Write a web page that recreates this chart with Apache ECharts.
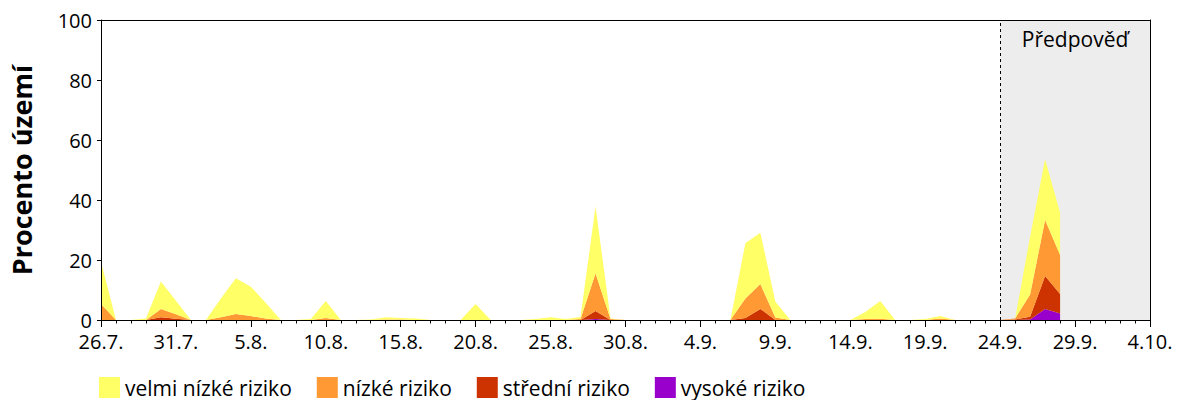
<!DOCTYPE html>
<html>
<head>
<meta charset="utf-8">
<script src="https://cdn.jsdelivr.net/npm/echarts@6/dist/echarts.min.js"></script>
<style>
  html, body { margin: 0; padding: 0; background: #fff; }
  #chart { width: 1200px; height: 400px; }
</style>
</head>
<body>
<div id="chart"></div>
<script>
// dny 26.7. - 4.10.
var startDay = new Date(2000, 6, 26);
var dayCount = 71;
var days = [];
for (var i = 0; i < dayCount; i++) {
  var d = new Date(startDay.getTime() + i * 86400000);
  days.push(d.getDate() + '.' + (d.getMonth() + 1) + '.');
}

var forecastFrom = '24.9.';
var forecastTo = '4.10.';

var seriesNames = ['velmi nízké riziko', 'nízké riziko', 'střední riziko', 'vysoké riziko'];

// procento území, po dnech (26.7. - 29.9.)
var velmiNizke = [14.1, 0, 0, 0.5, 9.1, 4.5, 0, 0, 6.3, 11.9, 9.8, 5.2, 0, 0, 0.3, 5.6, 0, 0, 0.2, 0.7,
  0.5, 0.5, 0, 0, 0, 5.3, 0, 0, 0, 0.3, 0.9, 0.3, 0.7, 22.2, 0.2, 0, 0, 0, 0, 0,
  0, 0, 0, 18.4, 17.1, 5.3, 0, 0, 0, 0, 0, 2.4, 5.9, 0, 0, 0.3, 0.8, 0, 0, 0,
  0, 0, 19.3, 20.3, 14.1];
var nizke = [5.3, 0, 0, 0, 2.8, 1.5, 0, 0, 0.9, 2.0, 1.3, 0.5, 0, 0, 0, 0.7, 0, 0, 0, 0.2,
  0.2, 0, 0, 0, 0, 0, 0, 0, 0, 0, 0, 0, 0.3, 12.6, 0.3, 0, 0, 0, 0, 0,
  0, 0, 0, 6.5, 8.3, 0.8, 0, 0, 0, 0, 0, 0.3, 0.4, 0, 0, 0, 0.5, 0, 0, 0,
  0, 0.3, 7.4, 18.6, 13.0];
var stredni = [0, 0, 0, 0, 0.9, 0.4, 0, 0, 0, 0, 0, 0, 0, 0, 0, 0, 0, 0, 0, 0,
  0, 0, 0, 0, 0, 0, 0, 0, 0, 0, 0, 0, 0, 2.7, 0, 0, 0, 0, 0, 0,
  0, 0, 0, 0.7, 3.7, 0, 0, 0, 0, 0, 0, 0, 0, 0, 0, 0, 0, 0, 0, 0,
  0, 0.2, 0.9, 11.0, 6.5];
var vysoke = [0, 0, 0, 0, 0, 0, 0, 0, 0, 0, 0, 0, 0, 0, 0, 0, 0, 0, 0, 0,
  0, 0, 0, 0, 0, 0, 0, 0, 0, 0, 0, 0, 0, 0.3, 0, 0, 0, 0, 0, 0,
  0, 0, 0, 0, 0, 0, 0, 0, 0, 0, 0, 0, 0, 0, 0, 0, 0, 0, 0, 0,
  0, 0, 0.2, 3.7, 2.2];

var colors = ['#ffff66', '#ff9933', '#cc3300', '#9900cc'];
var font = 'Open Sans';

function areaSeries(name, data, color) {
  return {
    name: name, type: 'line', stack: 'riziko', data: data,
    showSymbol: false, symbol: 'none', z: 3,
    lineStyle: { width: 0, color: color },
    itemStyle: { color: color },
    areaStyle: { color: color, opacity: 1 }
  };
}

var chart = echarts.init(document.getElementById('chart'), null, { renderer: 'svg' });
chart.setOption({
  animation: false,
  textStyle: { fontFamily: font },
  grid: { left: 100, right: 50, top: 20, bottom: 80 },
  legend: {
    data: seriesNames, left: 94, top: 372, icon: 'rect',
    itemWidth: 21, itemHeight: 21, itemGap: 25,
    textStyle: { color: '#000', fontSize: 21, fontFamily: font }
  },
  xAxis: [
    { // hlavní osa s popisky
      type: 'category', data: days, boundaryGap: false, z: 10,
      axisLine: { lineStyle: { color: '#000', width: 1 } },
      axisTick: { interval: 4, length: 7, lineStyle: { color: '#000' } },
      axisLabel: { interval: 4, color: '#000', fontSize: 20, lineHeight: 16, margin: 13, fontFamily: font }
    },
    { // denní ticky
      type: 'category', data: days, boundaryGap: false, position: 'bottom', z: 10,
      axisLine: { show: false },
      axisTick: { interval: 0, length: 3.5, lineStyle: { color: '#000' } },
      axisLabel: { show: false }
    },
    { // horní rámeček
      type: 'category', data: days, boundaryGap: false, position: 'top', z: 10,
      axisLine: { lineStyle: { color: '#000', width: 1 } },
      axisTick: { show: false }, axisLabel: { show: false }
    }
  ],
  yAxis: [
    {
      type: 'value', min: 0, max: 100, interval: 20, z: 10,
      name: 'Procento území', nameLocation: 'middle', nameGap: 66,
      nameTextStyle: { color: '#000', fontSize: 27, fontWeight: 'bold', fontFamily: font },
      axisLine: { show: true, lineStyle: { color: '#000', width: 1 } },
      axisTick: { show: true, length: 4, lineStyle: { color: '#000' } },
      axisLabel: { color: '#000', fontSize: 20, lineHeight: 14, margin: 9, fontFamily: font },
      splitLine: { show: false }
    },
    { // pravý rámeček
      type: 'value', min: 0, max: 100, position: 'right', z: 10,
      axisLine: { show: true, lineStyle: { color: '#000', width: 1 } },
      axisTick: { show: false }, axisLabel: { show: false }, splitLine: { show: false }
    }
  ],
  series: [
    {
      name: 'předpověď', type: 'line', data: [], z: 1, silent: true,
      markArea: {
        silent: true,
        itemStyle: { color: '#ededed' },
        label: { show: true, position: 'insideTop', distance: 8, color: '#000', fontSize: 21, fontFamily: font },
        data: [[{ name: 'Předpověď', xAxis: forecastFrom }, { xAxis: forecastTo }]]
      },
      markLine: {
        silent: true, symbol: 'none',
        lineStyle: { color: '#000', type: [3, 3], width: 1 },
        label: { show: false },
        data: [{ xAxis: forecastFrom }]
      }
    },
    areaSeries(seriesNames[3], vysoke, colors[3]),
    areaSeries(seriesNames[2], stredni, colors[2]),
    areaSeries(seriesNames[1], nizke, colors[1]),
    areaSeries(seriesNames[0], velmiNizke, colors[0])
  ]
});
</script>
</body>
</html>
